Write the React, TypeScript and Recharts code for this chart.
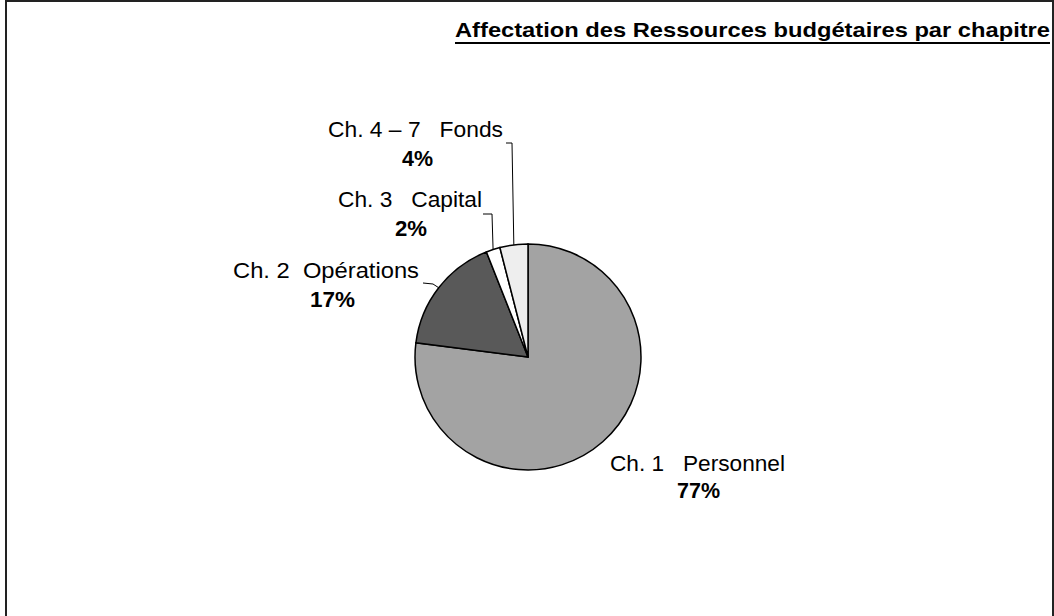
import React from "react";
import { PieChart, Pie, Cell } from "recharts";

const categories = ["Ch. 1   Personnel", "Ch. 2  Opérations", "Ch. 3   Capital", "Ch. 4 – 7   Fonds"];
const shares = [77, 17, 2, 4];
const sliceColors = ["#A3A3A3", "#595959", "#FFFFFF", "#EEEEEE"];
const chartTitle = "Affectation des Ressources budgétaires par chapitre";

const data = categories.map((name, i) => ({ name, value: shares[i] }));

// label layout: offsets from pie centre (text centre, baseline), widths, leader line elbows
const labelLayout = [
  { nx: 169.5, ny: 114, nw: 175, px: 170.5, py: 141, pw: 43, line: null as null | number[][] },
  { nx: -202, ny: -79, nw: 186, px: -195.5, py: -50, pw: 45, line: [[-95, -73], [-105, -74]] },
  { nx: -118, ny: -150, nw: 144, px: -117, py: -121, pw: 32, line: [[-36, -143], [-45, -143]] },
  { nx: -112.5, ny: -220, nw: 175, px: -110.5, py: -191, pw: 31, line: [[-16, -214], [-22, -214]] },
];

const FONT = "'Liberation Sans', Arial, sans-serif";
const RADIAN = Math.PI / 180;

const renderLabel = (props: any) => {
  const { cx, cy, midAngle, outerRadius, index, percent, name } = props;
  const L = labelLayout[index];
  const ex = cx + outerRadius * Math.cos(-midAngle * RADIAN);
  const ey = cy + outerRadius * Math.sin(-midAngle * RADIAN);
  let linePts = "";
  if (L.line) {
    linePts = [[ex, ey], ...L.line.map((p) => [cx + p[0], cy + p[1]])]
      .map((p) => `${p[0]},${p[1]}`)
      .join(" ");
  }
  return (
    <g key={`lbl-${index}`}>
      {L.line && <polyline points={linePts} fill="none" stroke="#000" strokeWidth={1} />}
      <text
        x={cx + L.nx}
        y={cy + L.ny}
        textAnchor="middle"
        fontFamily={FONT}
        fontSize={22}
        fill="#000"
        textLength={L.nw}
        lengthAdjust="spacingAndGlyphs"
        style={{ whiteSpace: "pre" }}
      >
        {name}
      </text>
      <text
        x={cx + L.px}
        y={cy + L.py}
        textAnchor="middle"
        fontFamily={FONT}
        fontSize={22}
        fontWeight="bold"
        fill="#000"
        textLength={L.pw}
        lengthAdjust="spacingAndGlyphs"
      >
        {`${Math.round(percent * 100)}%`}
      </text>
    </g>
  );
};

export default function App() {
  return (
    <div style={{ position: "absolute", left: 0, top: 0, width: 1054, height: 616, background: "#fff", overflow: "hidden" }}>
      <div
        style={{
          position: "absolute",
          left: 5,
          top: 0,
          width: 1049,
          height: 616,
          boxSizing: "border-box",
          borderLeft: "2px solid #222",
          borderTop: "2px solid #222",
          borderRight: "2px solid #222",
        }}
      />
      <svg width={1054} height={616} style={{ position: "absolute", left: 0, top: 0 }}>
        <text
          x={455}
          y={37}
          fontFamily={FONT}
          fontSize={21}
          fontWeight="bold"
          fill="#000"
          textLength={595}
          lengthAdjust="spacingAndGlyphs"
        >
          {chartTitle}
        </text>
        <line x1={455} y1={43} x2={1050} y2={43} stroke="#000" strokeWidth={2} />
      </svg>
      <div style={{ position: "absolute", left: 0, top: 0 }}>
        <PieChart width={1054} height={616} margin={{ top: 0, right: 0, bottom: 0, left: 0 }}>
          <Pie
            data={data}
            dataKey="value"
            nameKey="name"
            cx={528}
            cy={357}
            outerRadius={113}
            startAngle={90}
            endAngle={-270}
            stroke="#000"
            strokeWidth={1.5}
            label={renderLabel}
            labelLine={false}
            isAnimationActive={false}
          >
            {data.map((d, i) => (
              <Cell key={d.name} fill={sliceColors[i]} />
            ))}
          </Pie>
        </PieChart>
      </div>
    </div>
  );
}
